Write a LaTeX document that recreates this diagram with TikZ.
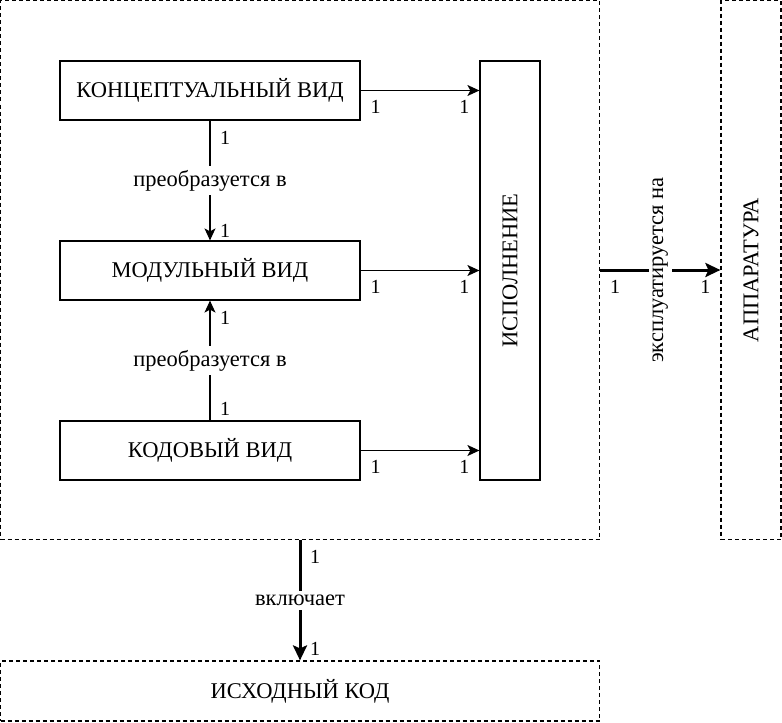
\documentclass[tikz,border=0pt]{standalone}
\usepackage{fontspec}
\setmainfont{Liberation Serif}
\usetikzlibrary{arrows.meta}
\begin{document}
\begin{tikzpicture}[x=1pt,y=-1pt,
  box/.style={draw, line width=1.2pt, minimum width=300pt, minimum height=59pt, inner sep=0pt, font=\fontsize{22.5}{26}\selectfont},
  dbox/.style={draw, line width=1.2pt, dash pattern=on 4pt off 3pt, inner sep=0pt},
  big/.style={font=\fontsize{22.5}{26}\selectfont},
  lbl/.style={fill=white, inner sep=4pt, font=\fontsize{22.5}{26}\selectfont},
  num/.style={inner sep=0pt, anchor=center, font=\fontsize{20}{22}\selectfont},
  arr/.style={line width=1.2pt, -{Stealth[length=12pt,width=11pt,inset=3pt]}},
  tarr/.style={line width=3pt, -{Stealth[length=15pt,width=14pt,inset=3pt]}}
]
\useasboundingbox (0,0) rectangle (782,723);
% outer containers
\node[dbox, minimum width=599pt, minimum height=539pt] (sys) at (300,270) {};
\node[dbox, minimum width=60pt, minimum height=539pt] (hw) at (751,270) {};
\node[dbox, minimum width=599pt, minimum height=60pt, big] (sc) at (300,691) {ИСХОДНЫЙ КОД};
\node[big, rotate=90] (hwt) at (hw.center) {АППАРАТУРА};
% views
\node[box] (cv) at (210,90.5) {КОНЦЕПТУАЛЬНЫЙ ВИД};
\node[box] (mv) at (210,270.5) {МОДУЛЬНЫЙ ВИД};
\node[box] (kv) at (210,450.5) {КОДОВЫЙ ВИД};
% execution
\node[draw, line width=1.2pt, minimum width=60pt, minimum height=419pt, inner sep=0pt] (ex) at (510,270.5) {};
\node[big, rotate=90] (ext) at (ex.center) {ИСПОЛНЕНИЕ};
% arrows to execution
\foreach \v in {cv,mv,kv}{
  \draw[arr] (\v.east) -- (\v.east -| ex.west)
    node[num, pos=0, xshift=15pt, yshift=-16pt] {1}
    node[num, pos=1, xshift=-15pt, yshift=-16pt] {1};
}
% transformations
\draw[arr] (cv.south) -- (mv.north)
  node[lbl, pos=0.5] {преобразуется в}
  node[num, pos=0, xshift=15pt, yshift=-17pt] {1}
  node[num, pos=1, xshift=15pt, yshift=10pt] {1};
\draw[arr] (kv.north) -- (mv.south)
  node[lbl, pos=0.5] {преобразуется в}
  node[num, pos=0, xshift=15pt, yshift=12pt] {1}
  node[num, pos=1, xshift=15pt, yshift=-17pt] {1};
% system to hardware
\draw[tarr] (sys.east) -- (hw.west)
  node[lbl, pos=0.5, rotate=90, inner sep=4pt] {эксплуатируется на}
  node[num, pos=0, xshift=15pt, yshift=-17pt] {1}
  node[num, pos=1, xshift=-15pt, yshift=-17pt] {1};
% system to source
\draw[tarr] (sys.south) -- (sc.north)
  node[lbl, pos=0.5] {включает}
  node[num, pos=0, xshift=15pt, yshift=-17pt] {1}
  node[num, pos=1, xshift=15pt, yshift=12pt] {1};
\end{tikzpicture}
\end{document}
